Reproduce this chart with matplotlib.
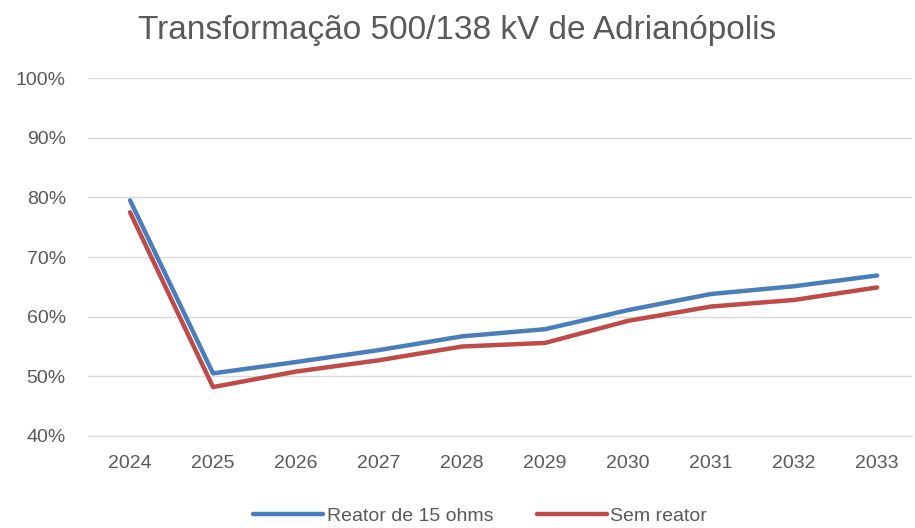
import numpy as np
import matplotlib.pyplot as plt
from matplotlib.ticker import PercentFormatter

plt.rcParams['font.family'] = ['Liberation Sans', 'DejaVu Sans']

# Data
years = ['2024', '2025', '2026', '2027', '2028', '2029', '2030', '2031', '2032', '2033']
reator_15 = [79.5, 50.5, 52.4, 54.4, 56.7, 57.9, 61.1, 63.8, 65.1, 66.9]
sem_reator = [77.5, 48.2, 50.8, 52.7, 55.0, 55.6, 59.3, 61.7, 62.8, 64.9]

grey = '#595959'

fig = plt.figure(figsize=(9.15, 5.28), dpi=100)
ax = fig.add_axes([88/915, 1-436/528, (912-88)/915, (436-78)/528])

x = np.arange(len(years))
ax.plot(x, reator_15, color='#4A7EBB', lw=3.2, label='Reator de 15 ohms',
        solid_capstyle='round', solid_joinstyle='round', zorder=3)
ax.plot(x, sem_reator, color='#BE4B48', lw=3.2, label='Sem reator',
        solid_capstyle='round', solid_joinstyle='round', zorder=3)

ax.set_xlim(-0.506, 9.42)
ax.set_ylim(40, 100)
ax.set_yticks(np.arange(40, 101, 10))
ax.yaxis.set_major_formatter(PercentFormatter(decimals=0))
ax.set_xticks(x)
ax.set_xticklabels(years)

ax.grid(axis='y', color='#D9D9D9', lw=1)
ax.set_axisbelow(True)
for s in ax.spines.values():
    s.set_visible(False)
ax.spines['bottom'].set_visible(True)
ax.spines['bottom'].set_color('#D9D9D9')
ax.tick_params(length=0, colors=grey, labelsize=14)
ax.tick_params(axis='y', pad=16)
ax.tick_params(axis='x', pad=14)

fig.text(0.5, 1-30/528, 'Transformação 500/138 kV de Adrianópolis',
         ha='center', va='center', fontsize=24, color=grey)

leg = fig.legend(loc='center', bbox_to_anchor=(0.525, 1-516/528), ncol=2,
                 frameon=False, fontsize=14, handlelength=3.6,
                 handletextpad=0.2, columnspacing=2.2)
for t in leg.get_texts():
    t.set_color(grey)

fig.savefig('out.png', dpi=100)
